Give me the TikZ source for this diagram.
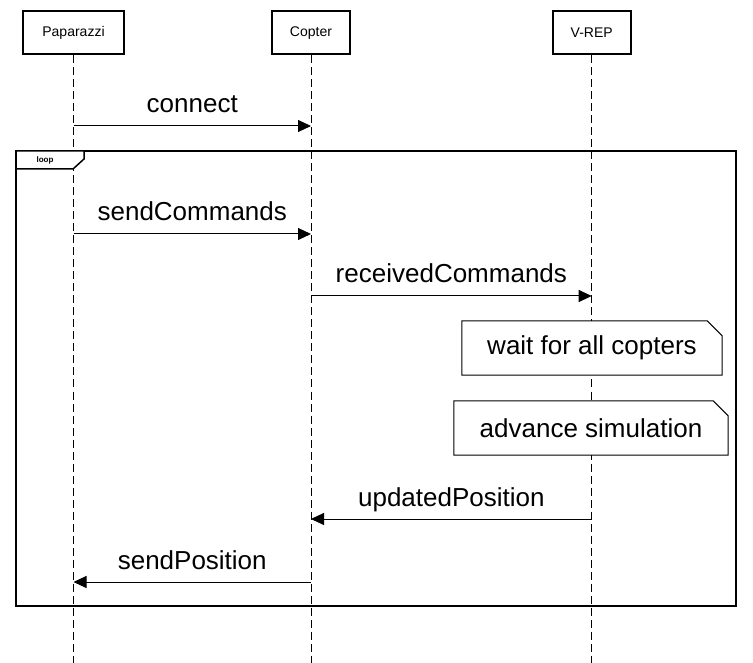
\documentclass[tikz,border=0pt]{standalone}
\usepackage{fontspec}
\setmainfont{Liberation Sans}
\usetikzlibrary{arrows.meta}

\begin{document}
\begin{tikzpicture}[x=1pt,y=-1pt,
  actor/.style={draw, line width=2pt, minimum width=#1, minimum height=43pt, inner sep=0pt, font=\fontsize{14}{16}\selectfont},
  life/.style={dash pattern=on 8pt off 4pt, line width=1pt},
  msg/.style={line width=1pt, -{Triangle[length=13pt,width=12pt]}},
  lbl/.style={anchor=base, yshift=13pt, font=\fontsize{26}{30}\selectfont},
  notebox/.style={fill=white, minimum width=#1, minimum height=54pt, inner sep=0pt, font=\fontsize{26}{30}\selectfont}]
\useasboundingbox (0,0) rectangle (753,663);

% participants and lifelines
\node[actor=101pt] (pap) at (73.5,33) {Paparazzi};
\node[actor=78pt] (cop) at (311,33) {Copter};
\node[actor=78pt] (vrep) at (591.7,33) {V-REP};
\coordinate (bottom) at (0,663);
\foreach \p in {pap,cop,vrep}
  \draw[life] (\p.south) -- (\p.south |- bottom);

% loop frame
\draw[line width=2pt] (16,151) rectangle (736,606);
\draw[line width=1.5pt, fill=white] (16,151) -- (84,151) -- (84,159) -- (73,169) -- (16,169) -- cycle;
\node[font=\bfseries\fontsize{8}{9}\selectfont] (loop) at (45,160) {loop};

% message levels
\coordinate (y1) at (0,126);
\coordinate (y2) at (0,234);
\coordinate (y3) at (0,296);
\coordinate (y4) at (0,519);
\coordinate (y5) at (0,582);

\draw[msg] (pap |- y1) -- node[lbl] {connect} (cop |- y1);
\draw[msg] (pap |- y2) -- node[lbl] {sendCommands} (cop |- y2);
\draw[msg] (cop |- y3) -- node[lbl] {receivedCommands} (vrep |- y3);
\draw[msg] (vrep |- y4) -- node[lbl] {updatedPosition} (cop |- y4);
\draw[msg] (cop |- y5) -- node[lbl] {sendPosition} (pap |- y5);

% notes
\node[notebox=260pt] (wait) at (592,348) {wait for all copters};
\node[notebox=274pt] (adv) at (591,428) {advance simulation};
\foreach \n in {wait,adv}
  \draw[line width=1pt] (\n.north west) -- ([xshift=-15pt]\n.north east) -- ([yshift=-15pt]\n.north east)
    -- (\n.south east) -- (\n.south west) -- cycle;
\end{tikzpicture}
\end{document}
